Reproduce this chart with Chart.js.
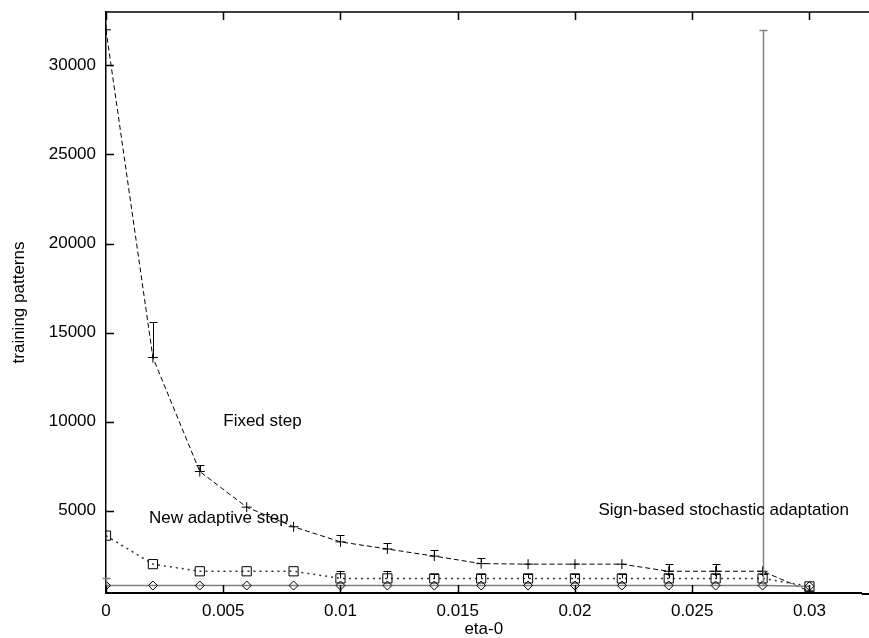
<!DOCTYPE html>
<html>
<head>
<meta charset="utf-8">
<script src="https://cdn.jsdelivr.net/npm/chart.js@4"></script>
<style>
    html, body { margin: 0; padding: 0; background: #fff; overflow: hidden; }
    #wrap { width: 869px; height: 638px; }
</style>
</head>
<body>
<div id="wrap"><canvas id="chart"></canvas></div>
<script>
// eta-0 values (x)
const etaValues = [0, 0.002, 0.004, 0.006, 0.008, 0.01, 0.012, 0.014, 0.016, 0.018, 0.02, 0.022, 0.024, 0.026, 0.028, 0.03];

// Fixed step
const fixedStep     = [32000, 13600, 7200, 5200, 4100, 3250, 2850, 2450, 2030, 2000, 2000, 2000, 1600, 1600, 1600, 480];
const fixedStepHigh = [null, 15600, 7550, null, null, 3620, 3190, 2780, 2370, null, null, null, 2030, 2030, null, null];

// New adaptive step
const adaptiveStep     = [3600, 2000, 1600, 1600, 1600, 1200, 1200, 1200, 1200, 1200, 1200, 1200, 1200, 1200, 1200, 750];
const adaptiveStepHigh = [null, null, null, null, null, 1600, 1600, 1430, 1430, 1430, 1430, 1430, 1430, 1430, 1430, null];

// Sign-based stochastic adaptation
const signBased     = [800, 800, 800, 800, 800, 800, 800, 800, 800, 800, 800, 800, 800, 800, 800, 760];
const signBasedHigh = [1220, null, null, null, null, null, null, null, null, null, null, null, null, null, 32000, null];

// axis ticks
const xTicks = [0, 0.005, 0.01, 0.015, 0.02, 0.025, 0.03];
const xTickLabels = ['0', '0.005', '0.01', '0.015', '0.02', '0.025', '0.03'];
const yTicks = [5000, 10000, 15000, 20000, 25000, 30000];

// curve labels (data coordinates)
const curveLabels = [
    { text: 'Fixed step', x: 0.005, y: 10000 },
    { text: 'New adaptive step', x: 0.00183, y: 4550 },
    { text: 'Sign-based stochastic adaptation', x: 0.021, y: 5000 }
];

const FONT = 'Liberation Sans, Arial, Helvetica, sans-serif';

function toPoints(values) {
    return etaValues.map((x, i) => ({ x: x, y: values[i] }));
}

/**
 * Dibuja barras de error, marcas internas de ejes y etiquetas
 */
const overlayPlugin = {
    id: 'overlay',
    afterDatasetsDraw(chart) {
        const { ctx, chartArea: a, scales: { x, y } } = chart;
        ctx.save();

        // borde superior
        ctx.strokeStyle = '#000';
        ctx.lineWidth = 1.5;
        ctx.beginPath();
        ctx.moveTo(a.left, a.top);
        ctx.lineTo(chart.width, a.top);
        ctx.stroke();

        // marcas hacia dentro
        ctx.lineWidth = 1.5;
        ctx.beginPath();
        xTicks.forEach(v => {
            const px = Math.round(x.getPixelForValue(v)) + 0.5;
            ctx.moveTo(px, a.bottom);
            ctx.lineTo(px, a.bottom - 8);
            ctx.moveTo(px, a.top);
            ctx.lineTo(px, a.top + 8);
        });
        yTicks.forEach(v => {
            const py = Math.round(y.getPixelForValue(v)) + 0.5;
            ctx.moveTo(a.left, py);
            ctx.lineTo(a.left + 8, py);
        });
        ctx.stroke();

        // eje inferior hasta el borde
        ctx.lineWidth = 2;
        ctx.beginPath();
        ctx.moveTo(a.right, a.bottom + 1);
        ctx.lineTo(chart.width, a.bottom + 1);
        ctx.stroke();

        // barras de error
        const bars = [
            { values: fixedStep, high: fixedStepHigh, color: '#000', width: 1 },
            { values: adaptiveStep, high: adaptiveStepHigh, color: '#000', width: 1 },
            { values: signBased, high: signBasedHigh, color: '#808080', width: 1.5 }
        ];
        bars.forEach(s => {
            ctx.strokeStyle = s.color;
            ctx.lineWidth = s.width;
            ctx.beginPath();
            s.high.forEach((h, i) => {
                if (h === null) return;
                const px = Math.round(x.getPixelForValue(etaValues[i])) + 0.5;
                const y0 = y.getPixelForValue(s.values[i]);
                const y1 = Math.round(y.getPixelForValue(h)) + 0.5;
                ctx.moveTo(px, y0);
                ctx.lineTo(px, y1);
                ctx.moveTo(px - 4, y1);
                ctx.lineTo(px + 4, y1);
            });
            ctx.stroke();
        });

        // etiquetas de curvas
        ctx.fillStyle = '#000';
        ctx.font = '17px ' + FONT;
        ctx.textAlign = 'left';
        ctx.textBaseline = 'middle';
        curveLabels.forEach(l => {
            ctx.fillText(l.text, x.getPixelForValue(l.x), y.getPixelForValue(l.y));
        });

        ctx.restore();
    }
};

const ctx = document.getElementById('chart').getContext('2d');
new Chart(ctx, {
    type: 'line',
    data: {
        datasets: [
            {
                label: 'Sign-based stochastic adaptation',
                data: toPoints(signBased),
                borderColor: '#808080',
                borderWidth: 1.5,
                pointStyle: 'rectRot',
                pointRadius: 4.5,
                pointBorderColor: '#000',
                pointBackgroundColor: 'rgba(0,0,0,0)',
                pointBorderWidth: 1
            },
            {
                label: 'New adaptive step',
                data: toPoints(adaptiveStep),
                borderColor: '#333',
                borderWidth: 1.5,
                borderDash: [2, 4],
                pointStyle: 'rect',
                pointRadius: 6.5,
                pointBorderColor: '#000',
                pointBackgroundColor: 'rgba(0,0,0,0)',
                pointBorderWidth: 1
            },
            {
                label: 'Fixed step',
                data: toPoints(fixedStep),
                borderColor: '#000',
                borderWidth: 1,
                borderDash: [5, 3],
                pointStyle: 'cross',
                pointRadius: 5,
                pointBorderColor: '#000',
                pointBorderWidth: 1
            }
        ]
    },
    options: {
        responsive: true,
        maintainAspectRatio: false,
        animation: false,
        layout: { padding: { top: 12, right: 0, bottom: 0, left: 0 } },
        plugins: {
            legend: { display: false },
            tooltip: { enabled: false }
        },
        scales: {
            x: {
                type: 'linear',
                min: 0,
                max: 0.03222,
                afterBuildTicks: s => { s.ticks = xTicks.map(v => ({ value: v })); },
                afterFit: s => {
                    s.height = 45;
                    s.paddingLeft = 0;
                    s.paddingRight = 0;
                },
                grid: { display: false, drawTicks: false },
                border: { display: true, color: '#000', width: 2 },
                ticks: {
                    color: '#000',
                    font: { family: FONT, size: 17 },
                    padding: 8,
                    maxRotation: 0,
                    autoSkip: false,
                    callback: v => xTickLabels[xTicks.indexOf(v)]
                },
                title: {
                    display: true,
                    text: 'eta-0',
                    color: '#000',
                    font: { family: FONT, size: 17, lineHeight: 1 },
                    padding: { top: 0, bottom: 0 }
                }
            },
            y: {
                type: 'linear',
                min: 380,
                max: 33000,
                afterBuildTicks: s => { s.ticks = yTicks.map(v => ({ value: v })); },
                afterFit: s => {
                    s.width = 106;
                    s.paddingTop = 0;
                    s.paddingBottom = 0;
                },
                grid: { display: false, drawTicks: false },
                border: { display: true, color: '#000', width: 1.5 },
                ticks: {
                    color: '#000',
                    font: { family: FONT, size: 17 },
                    padding: 10,
                    autoSkip: false,
                    callback: v => String(v)
                },
                title: {
                    display: true,
                    text: 'training patterns',
                    color: '#000',
                    font: { family: FONT, size: 17, lineHeight: 1 },
                    padding: { top: 11, bottom: 0 }
                }
            }
        }
    },
    plugins: [overlayPlugin]
});
</script>
</body>
</html>
